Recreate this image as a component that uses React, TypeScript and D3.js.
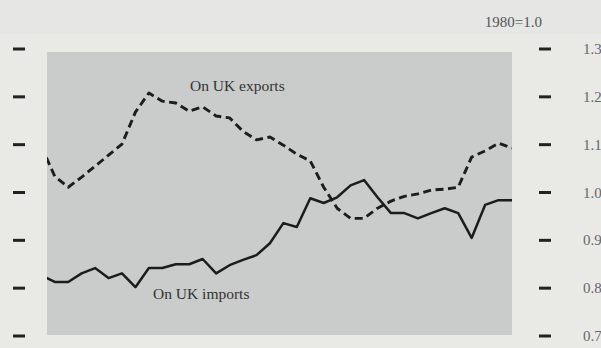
import React from "react";
import * as d3 from "d3";

// Quarter index of each observation (first one falls just outside the frame)
const quarters: number[] = Array.from({ length: 36 }, (_, i) => i);

// Effective exchange-rate index on UK exports (dashed), 1980 = 1.0
const exportsIndex: number[] = [
  1.097, 1.034, 1.011, 1.032, 1.055, 1.078, 1.101, 1.168, 1.208, 1.191,
  1.187, 1.170, 1.179, 1.160, 1.156, 1.128, 1.110, 1.116, 1.099, 1.080,
  1.066, 1.011, 0.967, 0.946, 0.946, 0.967, 0.982, 0.992, 0.997, 1.005,
  1.007, 1.011, 1.074, 1.087, 1.103, 1.093,
];

// Index on UK imports (solid)
const importsIndex: number[] = [
  0.827, 0.813, 0.813, 0.831, 0.842, 0.821, 0.831, 0.802, 0.842, 0.842,
  0.850, 0.850, 0.861, 0.831, 0.848, 0.859, 0.869, 0.894, 0.936, 0.928,
  0.988, 0.978, 0.990, 1.015, 1.026, 0.990, 0.957, 0.957, 0.946, 0.957,
  0.967, 0.957, 0.905, 0.974, 0.984, 0.984,
];

const yTicks: number[] = [0.7, 0.8, 0.9, 1.0, 1.1, 1.2, 1.3];
const yTickLabels: string[] = ["0.7", "0.8", "0.9", "1.0", "1.1", "1.2", "1.3"];

const W = 601;
const H = 348;
const plot = { left: 47, top: 52, right: 512, bottom: 335 };
const serif = "'Liberation Serif', 'DejaVu Serif', serif";

export default function App() {
  const x = d3.scaleLinear().domain([0.5, 35]).range([48, 512]);
  const y = d3.scaleLinear().domain([0.7, 1.3]).range([336, 49]);

  const line = d3
    .line<number>()
    .x((_, i) => x(quarters[i]))
    .y((d) => y(d));

  return (
    <svg
      width={W}
      height={H}
      viewBox={`0 0 ${W} ${H}`}
      style={{ position: "absolute", left: 0, top: 0, overflow: "hidden" }}
    >
      <defs>
        <clipPath id="plotClip">
          <rect
            x={plot.left}
            y={plot.top}
            width={plot.right - plot.left}
            height={plot.bottom - plot.top}
          />
        </clipPath>
      </defs>
      <rect x={0} y={0} width={W} height={H} fill="#e9eae6" />
      <rect x={0} y={0} width={W} height={34} fill="#e6e6e5" />
      <rect
        x={plot.left}
        y={plot.top}
        width={plot.right - plot.left}
        height={plot.bottom - plot.top}
        fill="#c9cccb"
      />

      {/* ticks */}
      {yTicks.map((t, i) => (
        <g key={i}>
          <line x1={13} x2={25} y1={y(t)} y2={y(t)} stroke="#222" strokeWidth={3} />
          <line x1={539} x2={551} y1={y(t)} y2={y(t)} stroke="#222" strokeWidth={3} />
          <text x={583} y={y(t) + 5} fontFamily={serif} fontSize={15} fill="#666">
            {yTickLabels[i]}
          </text>
        </g>
      ))}

      <text x={542} y={27} textAnchor="end" fontFamily={serif} fontSize={15} fill="#555">
        1980=1.0
      </text>

      <g clipPath="url(#plotClip)">
        <path
          d={line(exportsIndex) ?? ""}
          fill="none"
          stroke="#1c1c1c"
          strokeWidth={2.9}
          strokeDasharray="8 4.5"
          strokeLinejoin="round"
        />
        <path
          d={line(importsIndex) ?? ""}
          fill="none"
          stroke="#1c1c1c"
          strokeWidth={2.5}
          strokeLinejoin="round"
        />
      </g>

      <text x={190} y={91} fontFamily={serif} fontSize={15.5} fill="#333">
        On UK exports
      </text>
      <text x={153} y={299} fontFamily={serif} fontSize={15.5} fill="#333">
        On UK imports
      </text>
    </svg>
  );
}
